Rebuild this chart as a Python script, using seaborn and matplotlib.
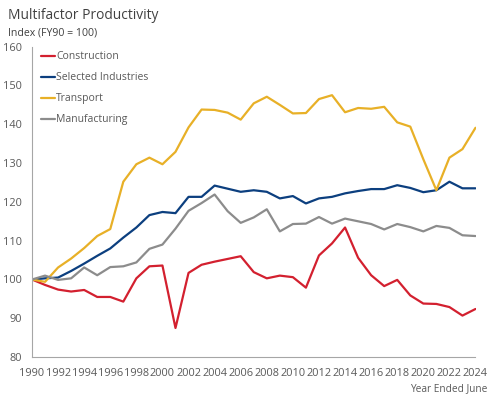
import pandas as pd
import matplotlib.pyplot as plt
import seaborn as sns

# Year ended June
years = list(range(1990, 2025))

construction = [100, 98.6, 97.4, 96.9, 97.3, 95.5, 95.5, 94.3, 100.3, 103.4,
                103.6, 87.5, 101.7, 103.8, 104.6, 105.3, 106.0, 101.9, 100.3, 101.0,
                100.6, 97.9, 106.2, 109.3, 113.4, 105.6, 101.1, 98.3, 99.9, 95.9,
                93.8, 93.7, 92.9, 90.7, 92.4]
selected = [100, 100.3, 100.5, 102.2, 104.1, 106.1, 108.0, 110.8, 113.4, 116.6,
            117.4, 117.1, 121.3, 121.3, 124.2, 123.4, 122.6, 123.0, 122.6, 120.9,
            121.5, 119.6, 120.9, 121.3, 122.2, 122.8, 123.3, 123.3, 124.3, 123.6,
            122.5, 123.0, 125.2, 123.5, 123.5]
transport = [100, 99.4, 103.1, 105.4, 108.1, 111.2, 113.0, 125.2, 129.7, 131.4,
             129.7, 132.9, 139.2, 143.8, 143.7, 143.0, 141.2, 145.4, 147.1, 145.0,
             142.8, 142.9, 146.5, 147.5, 143.1, 144.2, 144.0, 144.5, 140.5, 139.4,
             131.0, 123.0, 131.4, 133.6, 139.1]
manufacturing = [100, 101.0, 99.9, 100.3, 103.1, 101.1, 103.2, 103.4, 104.4, 107.9,
                 109.0, 113.1, 117.7, 119.7, 121.9, 117.6, 114.6, 116.0, 118.1, 112.4,
                 114.3, 114.4, 116.1, 114.4, 115.7, 115.0, 114.3, 112.9, 114.3, 113.5,
                 112.4, 113.8, 113.3, 111.4, 111.2]

series = {
    "Construction": construction,
    "Selected Industries": selected,
    "Transport": transport,
    "Manufacturing": manufacturing,
}
colors = ["#D3202F", "#0C3F7F", "#E8B027", "#8C8C8C"]

df = pd.concat(
    [pd.DataFrame({"Year": years, "Index": vals, "Series": name}) for name, vals in series.items()],
    ignore_index=True,
)

sns.set_style("white")
plt.rcParams["font.family"] = ["Open Sans", "DejaVu Sans"]
text_col = "#595959"
axis_col = "#A6A6A6"

fig = plt.figure(figsize=(5, 3.99), dpi=100)
ax = fig.add_axes([0.064, 0.105, 0.887, 0.778])

sns.lineplot(data=df, x="Year", y="Index", hue="Series", palette=colors,
             linewidth=1.6, ax=ax)

ax.set_xlim(1990, 2024)
ax.set_ylim(80, 160)
ax.set_xticks(years)
ax.set_xticklabels([str(y) if y % 2 == 0 else "" for y in years])
ax.set_yticks(range(80, 161, 10))
ax.tick_params(axis="both", colors=axis_col, labelcolor=text_col, labelsize=7.9,
               length=3.5, width=0.8, direction="out")
ax.tick_params(axis="x", pad=4)
ax.tick_params(axis="y", pad=4)
ax.set_xlabel("")
ax.set_ylabel("")
for side in ["top", "right"]:
    ax.spines[side].set_visible(False)
for side in ["left", "bottom"]:
    ax.spines[side].set_color(axis_col)
    ax.spines[side].set_linewidth(0.8)

leg = ax.legend(loc="upper left", bbox_to_anchor=(0.012, 0.998), frameon=False,
                handlelength=1.3, handletextpad=0.1, labelspacing=0.95,
                fontsize=7.5, labelcolor=text_col, borderaxespad=0)
for line in leg.get_lines():
    line.set_linewidth(1.6)

fig.text(0.016, 0.962, "Multifactor Productivity", fontsize=9.9, color="#404040",
         va="center", ha="left")
fig.text(0.016, 0.917, "Index (FY90 = 100)", fontsize=7.6, color="#404040",
         va="center", ha="left")
fig.text(0.974, 0.027, "Year Ended June", fontsize=7.3, color=text_col,
         va="center", ha="right")

fig.savefig("out.png", dpi=100)
